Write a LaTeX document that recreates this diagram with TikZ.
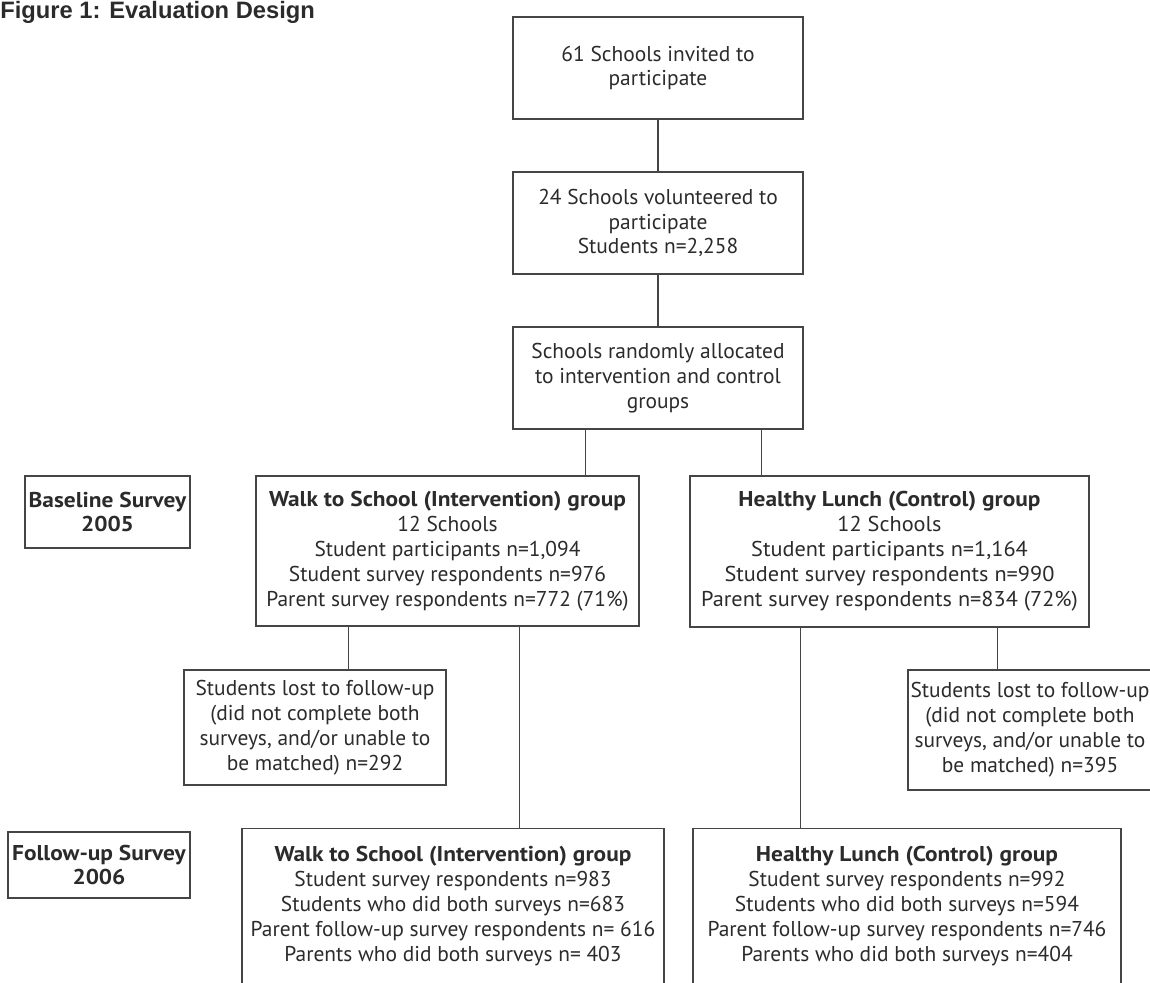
\documentclass[tikz,border=0pt]{standalone}
\usepackage{fontspec}
\setmainfont{PT Sans}[BoldFeatures={FakeStretch=1.09}]
\newfontfamily\widefont{PT Sans}[FakeStretch=1.04,BoldFeatures={FakeStretch=1.09}]
\newfontfamily\titlefont{Liberation Sans}
\usetikzlibrary{positioning}
\definecolor{ink}{HTML}{2B2B2B}
\definecolor{rulegray}{HTML}{454545}

\begin{document}
\begin{tikzpicture}[x=0.02cm,y=-0.02cm,
  box/.style={draw=rulegray,line width=0.65pt,text=ink,align=center,inner sep=0pt,
    font=\fontsize{12.2}{14.2}\selectfont},
  widebox/.style={box,font=\widefont\fontsize{12.2}{14.2}\selectfont},
  stagebox/.style={box,font=\bfseries\fontsize{12.2}{14.2}\selectfont}]
  \useasboundingbox (0,0) rectangle (1150,983);

  % title
  \node[anchor=base west,inner sep=0pt,text=ink,font=\titlefont\bfseries\fontsize{13.5}{15}\selectfont] (title) at (0,19) {Figure 1: Evaluation Design};

  % recruitment
  \node[box,minimum width=5.8cm,minimum height=2.04cm] (invited) at (658,68) {61 Schools invited to\\participate};
  \node[box,minimum width=5.8cm,minimum height=2.04cm] (volunteered) at (658,223) {24 Schools volunteered to\\participate\\Students n=2,258};
  \node[box,minimum width=5.8cm,minimum height=2.04cm] (allocated) at (658,378) {Schools randomly allocated\\to intervention and control\\groups};

  \path[draw,rulegray,line width=0.65pt]
  (invited) edge (volunteered)
  (volunteered) edge (allocated);

  % baseline
  \node[stagebox,minimum width=3.3cm,minimum height=1.44cm] (baseline) at (107.5,512) {Baseline Survey\\2005};
  \node[box,minimum width=7.66cm,minimum height=3cm] (walk) at (447.5,551) {\textbf{Walk to School (Intervention) group}\\12 Schools\\Student participants n=1,094\\Student survey respondents n=976\\Parent survey respondents n=772 (71\%)};
  \node[widebox,minimum width=7.98cm,minimum height=3.02cm] (lunch) at (889.5,551.5) {\textbf{Healthy Lunch (Control) group}\\12 Schools\\Student participants n=1,164\\Student survey respondents n=990\\Parent survey respondents n=834 (72\%)};

  \coordinate[right=1.46cm of allocated.south west] (splitWalk);
  \coordinate[left=0.84cm of allocated.south east] (splitLunch);
  \path[draw,rulegray,line width=0.65pt]
  (splitWalk) edge (splitWalk |- walk.north)
  (splitLunch) edge (splitLunch |- lunch.north);

  % lost to follow-up
  \node[box,minimum width=5.24cm,minimum height=2.3cm] (lostWalk) at (315,727.5) {Students lost to follow-up\\(did not complete both\\surveys, and/or unable to\\be matched) n=292};
  \node[box,minimum width=4.88cm,minimum height=2.4cm] (lostLunch) at (1030,730) {Students lost to follow-up\\(did not complete both\\surveys, and/or unable to\\be matched) n=395};

  % follow-up
  \node[stagebox,minimum width=3.64cm,minimum height=1.32cm] (followup) at (99,865) {Follow-up Survey\\2006};
  \node[box,anchor=north,minimum width=8.44cm,inner ysep=10pt] (walkFU) at (453,828) {\textbf{Walk to School (Intervention) group}\\Student survey respondents n=983\\Students who did both surveys n=683\\Parent follow-up survey respondents n= 616\\Parents who did both surveys n= 403\\[1.2cm]\mbox{}};
  \node[box,anchor=north,minimum width=8.56cm,inner ysep=10pt] (lunchFU) at (907,828) {\textbf{Healthy Lunch (Control) group}\\Student survey respondents n=992\\Students who did both surveys n=594\\Parent follow-up survey respondents n=746\\Parents who did both surveys n=404\\[1.2cm]\mbox{}};

  \coordinate[right=1.86cm of walk.south west] (dropWalk);
  \coordinate[left=2.4cm of walk.south east] (stayWalk);
  \coordinate[right=2.22cm of lunch.south west] (stayLunch);
  \coordinate[left=1.84cm of lunch.south east] (dropLunch);
  \path[draw,rulegray,line width=0.65pt]
  (dropWalk) edge (dropWalk |- lostWalk.north)
  (stayWalk) edge (stayWalk |- walkFU.north)
  (stayLunch) edge (stayLunch |- lunchFU.north)
  (dropLunch) edge (dropLunch |- lostLunch.north);
\end{tikzpicture}
\end{document}
